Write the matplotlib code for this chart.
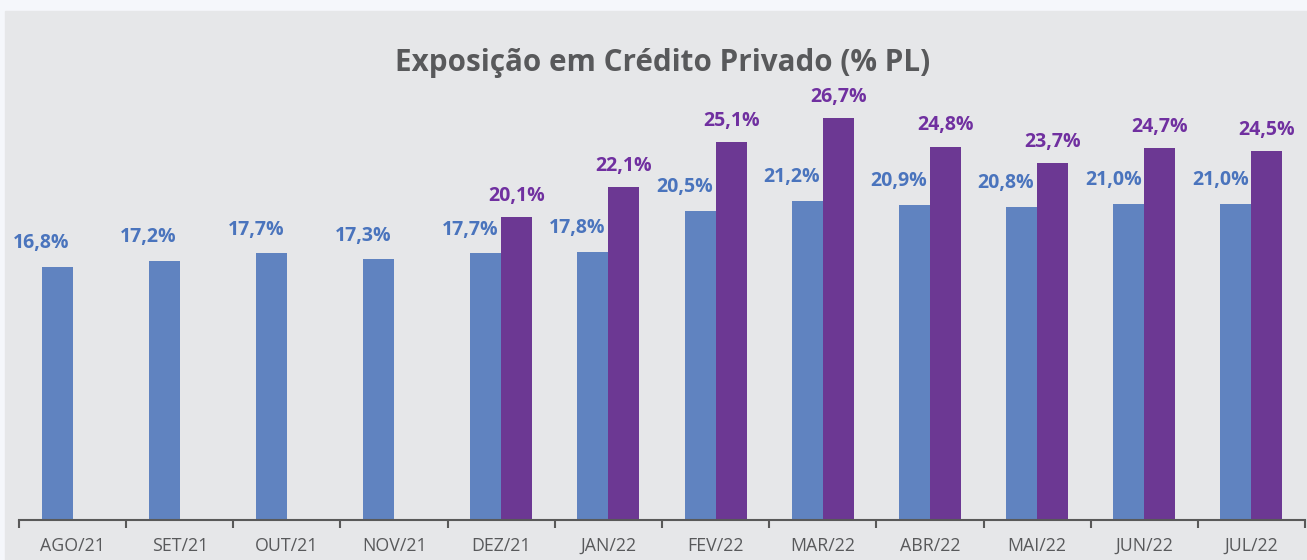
import matplotlib.pyplot as plt
from matplotlib.patches import Rectangle
import numpy as np

plt.rcParams['font.family'] = ['Open Sans', 'DejaVu Sans']

meses = ['AGO/21', 'SET/21', 'OUT/21', 'NOV/21', 'DEZ/21', 'JAN/22',
         'FEV/22', 'MAR/22', 'ABR/22', 'MAI/22', 'JUN/22', 'JUL/22']
serie_azul = [16.8, 17.2, 17.7, 17.3, 17.7, 17.8, 20.5, 21.2, 20.9, 20.8, 21.0, 21.0]
serie_roxa = [None, None, None, None, 20.1, 22.1, 25.1, 26.7, 24.8, 23.7, 24.7, 24.5]

azul = '#6083c0'
roxo = '#6c3893'
txt_azul = '#4a74bd'
txt_roxo = '#7030a0'
cinza = '#58595b'

fig = plt.figure(figsize=(13.07, 5.6), dpi=100, facecolor='#f5f7fb')
# painel cinza de fundo
fig.patches.append(Rectangle((5 / 1307, 0), 1, (560 - 11) / 560,
                             transform=fig.transFigure, color='#e6e7e9', zorder=-10))

ax = fig.add_axes([19 / 1307, 40 / 560, 1286 / 1307, 500 / 560])
ax.set_facecolor('none')

x = np.arange(len(meses))
w = 0.29
ax.bar(x - w / 2, serie_azul, width=w, color=azul, zorder=2)
xr = [i for i, v in enumerate(serie_roxa) if v is not None]
vr = [v for v in serie_roxa if v is not None]
ax.bar(np.array(xr) + w / 2, vr, width=w, color=roxo, zorder=2)

for i, v in zip(x, serie_azul):
    ax.annotate(f'{v:.1f}%'.replace('.', ','), (i - w, v), xytext=(0, 10),
                textcoords='offset points', ha='center', va='bottom',
                fontsize=14, fontweight='bold', color=txt_azul)
for i, v in zip(xr, vr):
    ax.annotate(f'{v:.1f}%'.replace('.', ','), (i + w / 2, v), xytext=(0, 8),
                textcoords='offset points', ha='center', va='bottom',
                fontsize=14, fontweight='bold', color=txt_roxo)

ax.set_xlim(-0.5, len(meses) - 0.5)
ax.set_ylim(0, 500 / 15.06)
ax.set_xticks(x)
ax.set_xticklabels(meses, fontsize=12.8, color=cinza)
ax.set_xticks(np.arange(-0.5, len(meses)), minor=True)
ax.tick_params(axis='x', which='major', length=0, pad=12)
ax.tick_params(axis='x', which='minor', length=6, width=1.5, color='#595959', direction='out')
ax.set_yticks([])
for s in ['top', 'right', 'left']:
    ax.spines[s].set_visible(False)
ax.spines['bottom'].set_color('#595959')
ax.spines['bottom'].set_linewidth(1.5)

fig.text(663 / 1307, 1 - 63 / 560, 'Exposição em Crédito Privado (% PL)',
         ha='center', va='center', fontsize=21.3, fontweight='bold', color=cinza)

plt.savefig('out.png', dpi=100, facecolor=fig.get_facecolor())
